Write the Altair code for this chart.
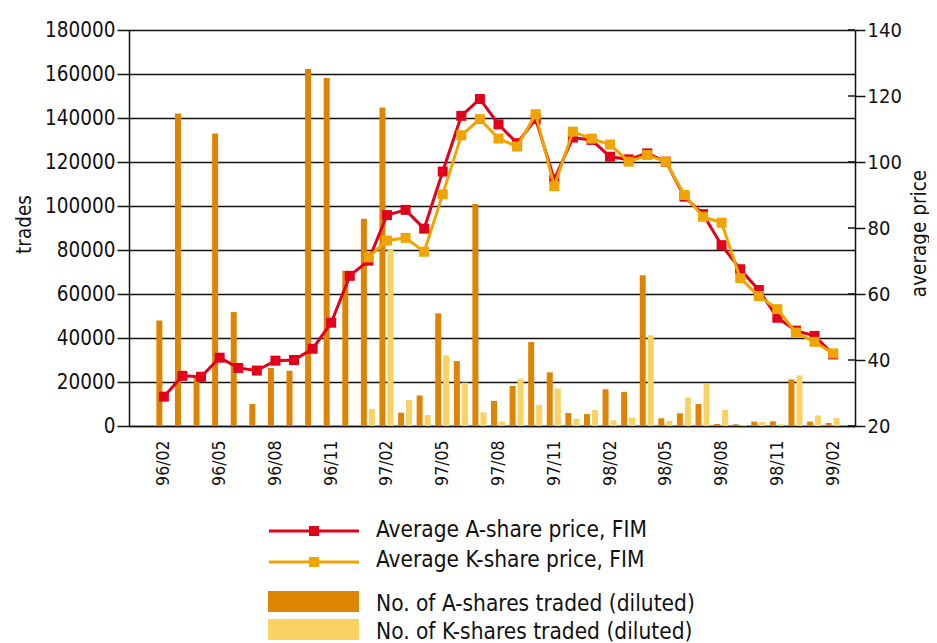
import altair as alt
import pandas as pd

FONT = "DejaVu Sans Condensed"

months = ["96/02", "96/03", "96/04", "96/05", "96/06", "96/07", "96/08", "96/09",
          "96/10", "96/11", "96/12", "97/01", "97/02", "97/03", "97/04", "97/05",
          "97/06", "97/07", "97/08", "97/09", "97/10", "97/11", "97/12", "98/01",
          "98/02", "98/03", "98/04", "98/05", "98/06", "98/07", "98/08", "98/09",
          "98/10", "98/11", "98/12", "99/01", "99/02"]

a_trades = [48000, 142000, 22400, 133000, 51800, 10000, 26400, 25100,
            162300, 158200, 70600, 94200, 144800, 6000, 13900, 51200,
            29500, 100900, 11400, 18200, 38200, 24400, 5900, 5400,
            16700, 15500, 68500, 3500, 5800, 10000, 900, 800,
            2000, 2100, 21200, 2000, 1400]

k_trades = [None, None, None, None, None, None, None, None,
            None, None, None, 7700, 80000, 11800, 5000, 32000,
            19700, 6200, 2000, 21500, 9500, 17000, 3300, 7300,
            2600, 3800, 41200, 2300, 12900, 19100, 7300, 450,
            1800, 800, 23000, 4800, 3600]

a_price = [28.9, 35.2, 34.9, 40.7, 37.6, 36.8, 39.8, 40.0,
           43.4, 51.3, 65.5, 70.1, 83.9, 85.5, 79.8, 97.1,
           114.0, 119.1, 111.4, 105.7, 113.0, 94.7, 107.4, 106.7,
           101.6, 100.8, 102.6, 100.1, 89.5, 84.2, 74.8, 67.5,
           61.2, 52.8, 48.9, 47.3, 41.7]

k_price = [None, None, None, None, None, None, None, None,
           None, None, None, 71.1, 76.2, 77.0, 72.8, 90.2,
           108.1, 113.0, 107.1, 104.7, 114.5, 92.7, 109.2, 107.1,
           105.3, 100.1, 102.1, 100.1, 90.0, 83.4, 81.6, 64.8,
           59.4, 55.4, 48.3, 45.5, 42.0]

left_ticks = [0, 20000, 40000, 60000, 80000, 100000, 120000, 140000, 160000, 180000]
right_ticks = [20, 40, 60, 80, 100, 120, 140]
x_ticks = [0, 3, 6, 9, 12, 15, 18, 21, 24, 27, 30, 33, 36]

legend_labels = ["Average A-share price, FIM", "Average K-share price, FIM",
                 "No. of A-shares traded (diluted)", "No. of K-shares traded (diluted)"]

RED = "#E2001A"
ORANGE = "#F0A400"
A_BAR = "#DD8502"
K_BAR = "#F9D262"
INK = "#111111"

idx = list(range(len(months)))
df_a = pd.DataFrame({"i": idx, "month": months, "trades": a_trades, "price": a_price})
df_k = pd.DataFrame({"i": idx, "month": months, "trades": k_trades, "price": k_price}).dropna()
df_rt = pd.DataFrame({"price": right_ticks})

label_array = "[" + ",".join("'" + m + "'" for m in months) + "]"

x_enc = alt.X(
    "i:Q",
    scale=alt.Scale(domain=[-1.607, 36.907], nice=False, zero=False),
    axis=alt.Axis(values=x_ticks, labelExpr=label_array + "[datum.value]",
                  labelAngle=270, labelAlign="right", labelBaseline="middle",
                  labelPadding=14, labelFontSize=17.5, ticks=False, grid=False,
                  domainColor=INK, domainWidth=1.5, labelColor=INK, labelFont=FONT),
    title=None,
)

y_bar = alt.Y(
    "trades:Q",
    scale=alt.Scale(domain=[0, 180000], nice=False),
    axis=alt.Axis(values=left_ticks, grid=True, gridColor=INK, gridWidth=1.5, gridOpacity=1,
                  tickSize=12, tickColor=INK, tickWidth=1.5, domainColor=INK, domainWidth=1.5,
                  labelFontSize=20.5, labelColor=INK, labelPadding=2, labelFont=FONT,
                  titleFontSize=20.5, titleFontWeight="normal", titleColor=INK, titleFont=FONT,
                  titleAngle=270, titleBaseline="alphabetic", titleAlign="center",
                  titleX=-99, titleY=194, format="d"),
    title="trades",
)

y_price = alt.Y(
    "price:Q",
    scale=alt.Scale(domain=[20, 140], nice=False, zero=False),
    axis=alt.Axis(orient="right", values=right_ticks, grid=False,
                  tickSize=10, tickColor=INK, tickWidth=1.5, domainColor=INK, domainWidth=1.5,
                  labelFontSize=20, labelColor=INK, labelPadding=2, labelFont=FONT,
                  titleFontSize=20.5, titleFontWeight="normal", titleColor=INK, titleFont=FONT,
                  titleAngle=270, titleBaseline="alphabetic", titleAlign="center",
                  titleX=70, titleY=203),
    title="average price",
)

bars_a = alt.Chart(df_a).mark_bar(size=6, xOffset=-4.5, color=A_BAR).encode(x=x_enc, y=y_bar)
bars_k = alt.Chart(df_k).mark_bar(size=6, xOffset=3.5, color=K_BAR).encode(x=x_enc, y=y_bar)
bars = alt.layer(bars_a, bars_k)

line_a = alt.Chart(df_a).mark_line(
    color=RED, strokeWidth=3,
    point=alt.OverlayMarkDef(shape="square", filled=True, size=100, color=RED),
).encode(x=x_enc, y=y_price)
line_k = alt.Chart(df_k).mark_line(
    color=ORANGE, strokeWidth=3,
    point=alt.OverlayMarkDef(shape="square", filled=True, size=100, color=ORANGE),
).encode(x=x_enc, y=y_price)
# inner half of the right-axis ticks (the axis draws the outer half)
inner_ticks = alt.Chart(df_rt).mark_rule(color=INK, strokeWidth=1.5).encode(
    y=alt.Y("price:Q"), x=alt.value(719), x2=alt.value(726))
lines = alt.layer(line_a, line_k, inner_ticks)


def one(label):
    return alt.Chart(pd.DataFrame({"label": [label]}))


# legend (drawn below the plot)
leg = []
leg.append(one(legend_labels[0]).mark_rule(color=RED, strokeWidth=3).encode(
    x=alt.value(140), x2=alt.value(230), y=alt.value(501)))
leg.append(one(legend_labels[0]).mark_square(size=100, color=RED, opacity=1).encode(
    x=alt.value(185), y=alt.value(501)))
leg.append(one(legend_labels[1]).mark_rule(color=ORANGE, strokeWidth=3).encode(
    x=alt.value(140), x2=alt.value(230), y=alt.value(532)))
leg.append(one(legend_labels[1]).mark_square(size=100, color=ORANGE, opacity=1).encode(
    x=alt.value(185), y=alt.value(532)))
leg.append(one(legend_labels[2]).mark_rect(color=A_BAR).encode(
    x=alt.value(139), x2=alt.value(230), y=alt.value(561), y2=alt.value(582)))
leg.append(one(legend_labels[3]).mark_rect(color=K_BAR).encode(
    x=alt.value(139), x2=alt.value(230), y=alt.value(589), y2=alt.value(610)))
for lab, yy in zip(legend_labels, [507, 537, 581, 609]):
    leg.append(one(lab).mark_text(align="left", baseline="alphabetic", fontSize=22.5,
                                  font=FONT, color=INK).encode(
        x=alt.value(247), y=alt.value(yy), text="label:N"))

chart = alt.layer(bars, lines, *leg).resolve_scale(y="independent").properties(
    width=726, height=396,
    autosize=alt.AutoSizeParams(type="none"),
    padding={"left": 121, "top": 22, "right": 74, "bottom": 220},
).configure_view(stroke=None).configure(font=FONT)

chart.save("out.html", embed_options={"renderer": "svg", "actions": False})
